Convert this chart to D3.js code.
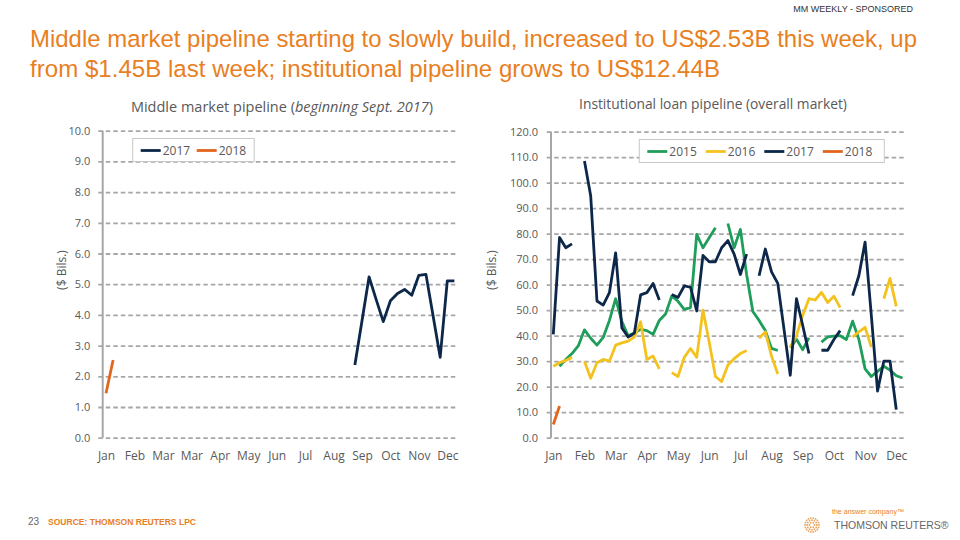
<!DOCTYPE html>
<html>
<head>
<meta charset="utf-8">
<script src="https://cdn.jsdelivr.net/npm/d3@7"></script>
<style>
	body { margin: 0; background: #fff; }
	svg { display: block; }
</style>
</head>
<body>
<div id="page"></div>
<script>
"use strict";

//
// Data: middle market pipeline ($ Bils.), weekly, x = week index
//
var mmWeekCount = 50;
var mmMonthLabels = ["Jan", "Feb", "Mar", "Mar", "Apr", "May", "Jun", "Jul", "Aug", "Sep", "Oct", "Nov", "Dec"];
var mm2017FirstWeek = 35;
var mm2017 = [2.37, 3.8, 5.24, 4.5, 3.78, 4.46, 4.7, 4.83, 4.64, 5.29, 5.32, 3.97, 2.62, 5.11, 5.11];
var mm2018FirstWeek = 0;
var mm2018 = [1.45, 2.53];
var mmTicks = [0, 1, 2, 3, 4, 5, 6, 7, 8, 9, 10];

//
// Data: institutional loan pipeline ($ Bils.), weekly, null = no value
//
var instWeekCount = 57;
var instMonthLabels = ["Jan", "Feb", "Mar", "Apr", "May", "Jun", "Jul", "Aug", "Sep", "Oct", "Nov", "Dec"];
var inst2015 = [null, 28, 30.7, 33, 36, 42.3, 39, 36.3, 39.3, 46,
	54.5, 45.5, 40, 41, 42.5, 42, 40.5, 46, 48.5, 55.6,
	53.5, 50.3, 51, 79.7, 74.5, 78.4, 82.3, null, 84, 74.5,
	81.7, 64, 49.5, 46, 42, 35, 34.2, null, 35.3, 38.6,
	34.5, 39.2, null, 37.5, 39.5, 39.8, 40, 38.5, 45.7, 38.6,
	27, 24, 26, 28, 26.5, 24.3, 23.4];
var inst2016 = [28, 29.4, 30.3, 31.5, null, 30, 23.3, 29.4, 30.7, 30,
	36.3, 37.2, 37.9, 39.5, 45.5, 30.7, 32, 27, null, 25.5,
	24, 31.5, 35, 31.5, 50, 37.5, 24, 22, 28.5, 31,
	33, 34.2, null, 39, 41.5, 32, 25, null, 35.5, 40,
	48, 54.5, 54, 57, 53, 55.5, 51, null, 39.5, 41.5,
	43.3, 35.5, null, 54.5, 62.5, 51.5, null];
var inst2017 = [40.5, 78.5, 74.5, 76, null, 108.5, 94.8, 53.6, 52, 56.9,
	72.5, 43, 39.5, 41, 56, 56.9, 60.5, 54, null, 56.2,
	55, 59.5, 59, 49.7, 71.5, 69, 69, 74.5, 77.3, 72,
	64, 72, null, 63.5, 74, 65, 60.5, 42.5, 24.5, 54.5,
	44, 33, null, 34.3, 34.3, 38.5, 42, null, 55.7, 63.5,
	76.7, 48, 18.3, 30, 30, 11, null];
var inst2018 = [5.2, 12.44];
var instTicks = [0, 10, 20, 30, 40, 50, 60, 70, 80, 90, 100, 110, 120];

//
// Colours and fonts
//
var colors = { "2015": "#1f9d5a", "2016": "#f4c21f", "2017": "#0c2749", "2018": "#e2661e" };
var grey = "#595959";
var gridGrey = "#a6a6a6";
var chartFont = "'Open Sans', 'DejaVu Sans', sans-serif";
var headFont = "'Liberation Sans', Arial, sans-serif";
var orange = "#e8801f";

function padSeries(values, first, count) {
	var out = [];
	for (var i = 0; i < count; i++) {
		var j = i - first;
		out.push(j >= 0 && j < values.length ? values[j] : null);
	}
	return out;
}

//
// Draw Canvas
//
var svg = d3.select("#page")
	.append("svg")
		.attr("width", 960)
		.attr("height", 540)
		.style("font-family", chartFont);

svg.append("rect").attr("width", 960).attr("height", 540).attr("fill", "#fff");

//
// Header
//
svg.append("text")
	.attr("x", 913).attr("y", 12)
	.attr("text-anchor", "end")
	.style("font-family", headFont)
	.style("font-size", "9px")
	.attr("fill", "#333")
	.text("MM WEEKLY - SPONSORED");

var headline = svg.append("text")
	.style("font-family", headFont)
	.style("font-size", "24.5px")
	.attr("fill", orange);
headline.append("tspan").attr("x", 30).attr("y", 47)
	.attr("textLength", 887).attr("lengthAdjust", "spacingAndGlyphs")
	.text("Middle market pipeline starting to slowly build, increased to US$2.53B this week, up");
headline.append("tspan").attr("x", 30).attr("y", 77)
	.attr("textLength", 690).attr("lengthAdjust", "spacingAndGlyphs")
	.text("from $1.45B last week; institutional pipeline grows to US$12.44B");

//
// One chart panel
//
function drawPanel(p) {
	var g = svg.append("g").attr("class", "panel");

	var x = d3.scalePoint()
		.domain(d3.range(p.weeks))
		.range([p.x0, p.x1]);

	var y = d3.scaleLinear()
		.domain([0, p.yMax])
		.range([437.7, p.yTop]);

	// grid + tick labels
	var yAxis = d3.axisLeft(y)
		.tickValues(p.ticks)
		.tickFormat(d3.format(".1f"))
		.tickSize(-(p.gridRight - p.gridLeft))
		.tickPadding(p.tickPad);

	var ya = g.append("g")
		.attr("transform", "translate(" + p.gridLeft + ",0)")
		.call(yAxis);
	ya.select(".domain").remove();
	ya.selectAll(".tick line")
		.attr("stroke", gridGrey)
		.attr("stroke-width", 1.8)
		.attr("stroke-dasharray", "4.5,3");
	ya.selectAll(".tick text")
		.attr("fill", grey)
		.style("font-family", chartFont)
		.style("font-size", "11px");

	// vertical axis line
	g.append("line")
		.attr("x1", p.axisX).attr("x2", p.axisX)
		.attr("y1", y(p.yMax)).attr("y2", y(0))
		.attr("stroke", gridGrey)
		.attr("stroke-width", 2);

	// month labels
	var xAxis = d3.axisBottom(x)
		.tickValues(p.labels.map(function(d, i) { return i * p.labelStep; }))
		.tickFormat(function(d) { return p.labels[d / p.labelStep]; })
		.tickSize(0)
		.tickPadding(13.5);

	var xa = g.append("g")
		.attr("transform", "translate(0," + y(0) + ")")
		.call(xAxis);
	xa.select(".domain").remove();
	xa.selectAll(".tick text")
		.attr("fill", grey)
		.style("font-family", chartFont)
		.style("font-size", "12px");

	// series
	var line = d3.line()
		.defined(function(d) { return d != null; })
		.x(function(d, i) { return x(i); })
		.y(function(d) { return y(d); });

	p.series.forEach(function(s) {
		g.append("path")
			.datum(s.values)
			.attr("fill", "none")
			.attr("stroke", colors[s.name])
			.attr("stroke-width", 2.8)
			.attr("stroke-linejoin", "round")
			.attr("d", line);
	});

	// title
	var t = g.append("text")
		.attr("x", p.titleX).attr("y", p.titleY)
		.attr("text-anchor", "middle")
		.attr("fill", grey)
		.style("font-size", p.titleSize);
	t.append("tspan").text(p.title);
	if (p.titleItalic) {
		t.append("tspan").text(" (");
		t.append("tspan").style("font-style", "italic").text(p.titleItalic);
		t.append("tspan").text(")");
	}

	// y label
	g.append("text")
		.attr("transform", "translate(" + p.yLabelX + ",270) rotate(-90)")
		.attr("text-anchor", "middle")
		.attr("fill", grey)
		.style("font-size", "12px")
		.text("($ Bils.)");

	// legend
	var lg = g.append("g");
	lg.append("rect")
		.attr("x", p.legend.x).attr("y", p.legend.y)
		.attr("width", p.legend.w).attr("height", 23)
		.attr("fill", "#fff")
		.attr("stroke", "#c8c8c8")
		.attr("stroke-width", 1);
	p.series.forEach(function(s, i) {
		var lx = p.legend.x + 8 + i * p.legend.step;
		lg.append("line")
			.attr("x1", lx).attr("x2", lx + 20)
			.attr("y1", p.legend.y + 12).attr("y2", p.legend.y + 12)
			.attr("stroke", colors[s.name])
			.attr("stroke-width", 2.8);
		lg.append("text")
			.attr("x", lx + 22).attr("y", p.legend.y + 16)
			.attr("fill", grey)
			.style("font-size", "12px")
			.text(s.name);
	});
}

drawPanel({
	weeks: mmWeekCount, x0: 106, x1: 454.4,
	yMax: 10, yTop: 130.7, ticks: mmTicks,
	gridLeft: 98.3, gridRight: 457, axisX: 102.7, tickPad: 8,
	labels: mmMonthLabels, labelStep: 4,
	series: [
		{ name: "2017", values: padSeries(mm2017, mm2017FirstWeek, mmWeekCount) },
		{ name: "2018", values: padSeries(mm2018, mm2018FirstWeek, mmWeekCount) }
	],
	title: "Middle market pipeline", titleItalic: "beginning Sept. 2017",
	titleX: 282, titleY: 112, titleSize: "14.5px",
	yLabelX: 66,
	legend: { x: 132.7, y: 138.5, w: 121.5, step: 56 }
});

drawPanel({
	weeks: instWeekCount, x0: 553.3, x1: 902.5,
	yMax: 120, yTop: 131.7, ticks: instTicks,
	gridLeft: 546.7, gridRight: 905, axisX: 551, tickPad: 8.7,
	labels: instMonthLabels, labelStep: 5,
	series: [
		{ name: "2015", values: inst2015 },
		{ name: "2016", values: inst2016 },
		{ name: "2017", values: inst2017 },
		{ name: "2018", values: padSeries(inst2018, 0, instWeekCount) }
	],
	title: "Institutional loan pipeline (overall market)", titleItalic: null,
	titleX: 713, titleY: 109, titleSize: "13.8px",
	yLabelX: 496,
	legend: { x: 639.3, y: 139.5, w: 245, step: 58.5 }
});

//
// Footer
//
svg.append("text")
	.attr("x", 28).attr("y", 525)
	.style("font-family", headFont)
	.style("font-size", "10px")
	.attr("fill", "#666")
	.text("23");
svg.append("text")
	.attr("x", 48).attr("y", 524.5)
	.attr("textLength", 148).attr("lengthAdjust", "spacingAndGlyphs")
	.style("font-family", headFont)
	.style("font-size", "8.5px")
	.style("font-weight", "bold")
	.attr("fill", orange)
	.text("SOURCE: THOMSON REUTERS LPC");

var logo = svg.append("g").attr("transform", "translate(812,525)");
[2.5, 4.8, 7].forEach(function(r, k) {
	var n = 6 + k * 6;
	d3.range(n).forEach(function(i) {
		var a = i / n * 2 * Math.PI;
		logo.append("circle")
			.attr("cx", r * Math.cos(a)).attr("cy", r * Math.sin(a))
			.attr("r", 0.9)
			.attr("fill", "#e9a25a");
	});
});
svg.append("text")
	.attr("x", 832).attr("y", 514)
	.attr("textLength", 72).attr("lengthAdjust", "spacingAndGlyphs")
	.style("font-family", headFont)
	.style("font-size", "7px")
	.attr("fill", orange)
	.text("the answer company\u2122");
svg.append("text")
	.attr("x", 834).attr("y", 529)
	.style("font-family", headFont)
	.style("font-size", "10.5px")
	.attr("fill", "#666")
	.text("THOMSON REUTERS\u00ae");
</script>
</body>
</html>
